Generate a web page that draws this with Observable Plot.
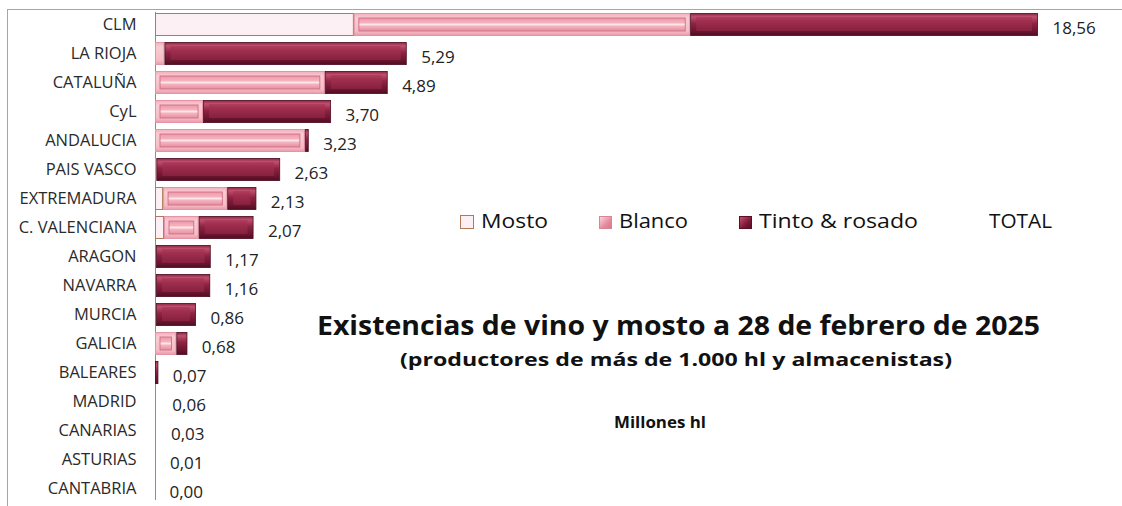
<!DOCTYPE html>
<html>
<head>
<meta charset="utf-8">
<script src="https://cdn.jsdelivr.net/npm/d3@7"></script>
<script src="https://cdn.jsdelivr.net/npm/@observablehq/plot@0.6"></script>
<style>
  body { margin:0; background:#fff; font-family: "Open Sans", "Noto Sans", sans-serif; }
  #wrap { position:relative; width:1122px; height:506px; overflow:hidden; }
  #frame { position:absolute; left:7px; top:9px; right:-2px; bottom:-2px; border-top:1px solid #a6a6a6; border-left:1px solid #a6a6a6; }
  .ann { position:absolute; white-space:nowrap; color:#111; line-height:1; transform-origin:0 0; }
  .sw { position:absolute; box-sizing:border-box; }
  #chart { position:absolute; left:0; top:0; }
</style>
</head>
<body>
<div id="wrap">
  <div id="frame"></div>
  <div id="chart"></div>
  <div class="sw" style="left:460px; top:215px; width:14px; height:14px; background:#fdf0f4; border:1px solid #b07a58"></div>
  <div class="sw" style="left:599px; top:216px; width:13px; height:13px; background:linear-gradient(135deg,#fbd5dc,#e68a9d 60%,#d5788b); border:1px solid #d98598"></div>
  <div class="sw" style="left:739px; top:216px; width:13px; height:13px; background:linear-gradient(135deg,#c4506f,#7c1a37 60%,#5a0f25); border:1px solid #5a0f25"></div>
  <div class="ann fit" data-w="67"  style="left:481px; top:211px; font-size:20px;">Mosto</div>
  <div class="ann fit" data-w="69"  style="left:619px; top:211px; font-size:20px;">Blanco</div>
  <div class="ann fit" data-w="159" style="left:759px; top:211px; font-size:20px;">Tinto &amp; rosado</div>
  <div class="ann fit" data-w="63"  style="left:989px; top:211px; font-size:20px;">TOTAL</div>
  <div class="ann fit" data-w="723" style="left:317px; top:312px; font-size:26px; font-weight:bold;">Existencias de vino y mosto a 28 de febrero de 2025</div>
  <div class="ann fit" data-w="552" style="left:400px; top:351px; font-size:17px; font-weight:bold;">(productores de más de 1.000 hl y almacenistas)</div>
  <div class="ann fit" data-w="92"  style="left:614px; top:415px; font-size:15.5px; font-weight:bold;">Millones hl</div>
</div>
<script>
const regions = ["CLM","LA RIOJA","CATALUÑA","CyL","ANDALUCIA","PAIS VASCO","EXTREMADURA","C. VALENCIANA","ARAGON","NAVARRA","MURCIA","GALICIA","BALEARES","MADRID","CANARIAS","ASTURIAS","CANTABRIA"];
const mosto  = [4.18,0.00,0.00,0.00,0.00,0.00,0.17,0.19,0.00,0.00,0.00,0.00,0.00,0.00,0.00,0.01,0.00];
const blanco = [7.07,0.20,3.57,1.01,3.15,0.03,1.35,0.73,0.02,0.02,0.02,0.45,0.00,0.00,0.00,0.00,0.00];
const tinto  = [7.31,5.09,1.32,2.69,0.08,2.60,0.61,1.15,1.15,1.14,0.84,0.23,0.07,0.00,0.00,0.00,0.00];
const totals = [18.56,5.29,4.89,3.70,3.23,2.63,2.13,2.07,1.17,1.16,0.86,0.68,0.07,0.06,0.03,0.01,0.00];

const rows = regions.map((r, i) => ({
  region: r,
  m0: 0, m1: mosto[i],
  b0: mosto[i], b1: mosto[i] + blanco[i],
  t0: mosto[i] + blanco[i], t1: mosto[i] + blanco[i] + tinto[i],
  total: totals[i]
}));
const fmt = v => v.toFixed(2).replace(".", ",");
const M = rows.filter(d => d.m1 > d.m0), B = rows.filter(d => d.b1 > d.b0), T = rows.filter(d => d.t1 > d.t0);

const chart = Plot.plot({
  width: 1122, height: 506,
  marginLeft: 155, marginRight: 84, marginTop: 12, marginBottom: 6,
  style: { fontFamily: "'Open Sans', 'Noto Sans', sans-serif", fontSize: "16.5px", color: "#222", background: "transparent", overflow: "visible" },
  x: { domain: [0, 18.56], axis: null },
  y: { domain: regions, paddingInner: 0.22, paddingOuter: 0, label: null, tickSize: 0, tickPadding: 19 },
  marks: [
    Plot.ruleX([0], { stroke: "#8c8c8c" }),
    Plot.barX(M, { x1: "m0", x2: "m1", y: "region", fill: "#fdf0f4", stroke: "#b07a58", strokeWidth: 1, inset: 0.5 }),
    Plot.barX(B, { x1: "b0", x2: "b1", y: "region", fill: "url(#gBlancoOut)", stroke: "#e394a5", strokeWidth: 1, inset: 0.5 }),
    Plot.barX(B, { x1: "b0", x2: "b1", y: "region", fill: "url(#gBlancoIn)", stroke: "#cf6f84", strokeWidth: 0.9, insetTop: 5, insetBottom: 5, insetLeft: 5, insetRight: 5 }),
    Plot.barX(T, { x1: "t0", x2: "t1", y: "region", fill: "url(#gTintoOut)", stroke: "#4e0c21", strokeWidth: 0.8, inset: 0.4 }),
    Plot.barX(T, { x1: "t0", x2: "t1", y: "region", fill: "url(#gTintoIn)", insetTop: 4, insetBottom: 5, insetLeft: 6, insetRight: 6 }),
    Plot.text(rows, { x: "total", y: "region", text: d => fmt(d.total), textAnchor: "start", dx: 14, dy: 4, fontSize: 17, fill: "#222" })
  ]
});

const svg = d3.select(chart);
svg.selectAll("g[aria-label='y-axis tick label']").attr("fill", "#2a2a2a");
const defs = svg.insert("defs", ":first-child");
function grad(id, stops) {
  const g = defs.append("linearGradient").attr("id", id).attr("x1", 0).attr("y1", 0).attr("x2", 0).attr("y2", 1);
  stops.forEach(([o, c]) => g.append("stop").attr("offset", o).attr("stop-color", c));
}
grad("gBlancoOut", [[0, "#f3aebb"], [0.2, "#f9cbd3"], [0.8, "#f6bcc6"], [1, "#e99aaa"]]);
grad("gBlancoIn", [[0, "#ec98a8"], [0.35, "#f4b2be"], [0.5, "#fde6ea"], [0.65, "#f4b2be"], [1, "#e58ea0"]]);
grad("gTintoOut", [[0, "#8a2543"], [0.15, "#c0506f"], [0.45, "#8e2342"], [0.8, "#6c1530"], [1, "#4f0d22"]]);
grad("gTintoIn", [[0, "#b03e5e"], [0.3, "#a02f4f"], [1, "#86203e"]]);

document.getElementById("chart").appendChild(chart);

function fit() {
  document.querySelectorAll(".fit").forEach(el => {
    el.style.transform = "none";
    const w = el.getBoundingClientRect().width;
    const target = +el.dataset.w;
    if (w > 0) el.style.transform = `scaleX(${target / w})`;
  });
}
fit();
if (document.fonts && document.fonts.ready) document.fonts.ready.then(fit);
</script>
</body>
</html>
